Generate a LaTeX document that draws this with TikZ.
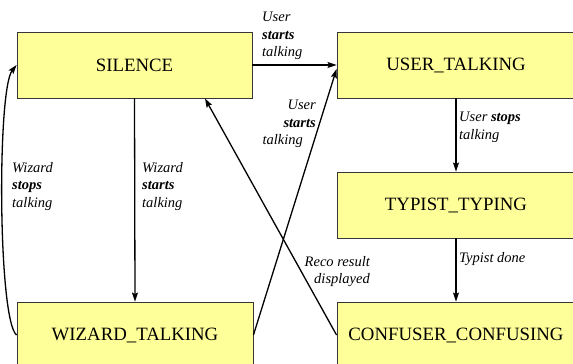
\documentclass[tikz,border=0pt]{standalone}
\usepackage{fontspec}
\setmainfont{Liberation Serif}
\usetikzlibrary{arrows.meta}
\definecolor{boxfill}{RGB}{255,255,153}
\definecolor{boxline}{RGB}{55,55,55}
\tikzset{
  statebox/.style={draw=boxline, line width=0.9pt, fill=boxfill, minimum width=238pt, minimum height=66pt, inner sep=0pt, font=\fontsize{18.8}{22}\selectfont},
  trans/.style={line width=1.3pt, -{Stealth[length=9pt,width=6pt,inset=1.5pt]}},
  lbl/.style={inner sep=0pt, font=\fontsize{14.5}{17.5}\selectfont\itshape}
}
\begin{document}
\begin{tikzpicture}[x=1pt,y=-1pt]
\useasboundingbox (0,0) rectangle (573,364);
\clip (0,0) rectangle (573,364);
\node[statebox, minimum width=235pt] (silence) at (134.5,65) {SILENCE};
\node[statebox] (user) at (456,65) {USER\_TALKING};
\node[statebox] (typist) at (456,205) {TYPIST\_TYPING};
\node[statebox] (confuser) at (456,335) {CONFUSER\_CONFUSING};
\node[statebox, minimum width=236pt] (wizard) at (135,335) {WIZARD\_TALKING};

\draw[trans] (silence.east) -- (user.west);
\draw[trans] (wizard.east) -- ([yshift=-4pt]user.west);
\draw[trans] (confuser.west) -- ([xshift=70.5pt]silence.south);
\draw[trans] (silence.south) -- (wizard.north);
\draw[trans] (user.south) -- (typist.north);
\draw[trans] (typist.south) -- (confuser.north);
\draw[trans] (wizard.west) .. controls (-2,320) and (-3,90) .. (silence.west);

\node[lbl, anchor=north west, align=left] (l1) at (262,12) {User\\\textbf{starts}\\talking};
\node[lbl, anchor=north east, align=right] (l2) at (316,100) {User\\\textbf{starts}\hspace*{7pt}\\talking\hspace*{13pt}};
\node[lbl, anchor=north west, align=left] (l3) at (459,112) {User \textbf{stops}\\talking};
\node[lbl, anchor=north west] (l4) at (459,252) {Typist done};
\node[lbl, anchor=north east, align=right] (l5) at (370,256) {Reco result\\displayed};
\node[lbl, anchor=north west, align=left] (l6) at (142,162) {Wizard\\\textbf{starts}\\talking};
\node[lbl, anchor=north west, align=left] (l7) at (12,162) {Wizard\\\textbf{stops}\\talking};
\end{tikzpicture}
\end{document}
